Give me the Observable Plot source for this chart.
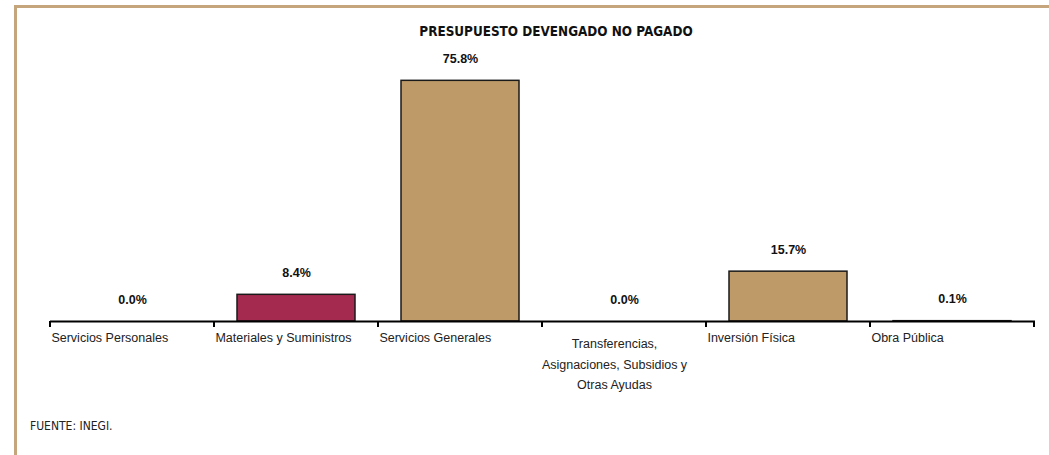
<!DOCTYPE html>
<html>
<head>
<meta charset="utf-8">
<script src="https://cdn.jsdelivr.net/npm/d3@7"></script>
<script src="https://cdn.jsdelivr.net/npm/@observablehq/plot@0.6"></script>
<style>
  html, body { margin: 0; padding: 0; background: #fff; }
  body { width: 1049px; height: 455px; position: relative; overflow: hidden;
         font-family: "Liberation Sans Narrow", "Arial Narrow", "DejaVu Sans Condensed", sans-serif; }
  #frame { position: absolute; left: 14px; top: 5px; width: 1035px; height: 460px;
           border-top: 3px solid #C4A57C; border-left: 3px solid #C4A57C; box-sizing: border-box; }
  #title { position: absolute; left: 0; width: 1112px; top: 24px; text-align: center;
           font-weight: bold; font-size: 13.4px; color: #111; }
  #chart { position: absolute; left: 0; top: 0; }
  #source { position: absolute; left: 30px; top: 419px; font-size: 12px; color: #222; }
</style>
</head>
<body>
<div id="frame"></div>
<div id="title">PRESUPUESTO DEVENGADO NO PAGADO</div>
<div id="chart"></div>
<div id="source">FUENTE: INEGI.</div>
<script>
const categories = ["Servicios Personales", "Materiales y Suministros", "Servicios Generales",
  "Transferencias, Asignaciones, Subsidios y Otras Ayudas", "Inversión Física", "Obra Pública"];
const values = [0.0, 8.4, 75.8, 0.0, 15.7, 0.1];
const valueLabels = ["0.0%", "8.4%", "75.8%", "0.0%", "15.7%", "0.1%"];
const tickLabels = ["Servicios Personales", "Materiales y Suministros", "Servicios Generales",
  "Transferencias,\nAsignaciones, Subsidios y\nOtras Ayudas", "Inversión Física", "Obra Pública"];
const barColors = ["#BE9A68", "#A52A4F", "#BE9A68", "#BE9A68", "#BE9A68", "#BE9A68"];

const data = categories.map((c, i) => ({
  cat: c, value: values[i], label: valueLabels[i], tick: tickLabels[i], color: barColors[i]
}));

const W = 1049, H = 455;
const step = (1035 - 50) / categories.length;

function boundaryTicks(index, scales, values, dimensions) {
  const g = d3.create("svg:g");
  const x = scales.x, y = scales.y;
  const bw = x.bandwidth ? x.bandwidth() : 0;
  const st = x(categories[1]) - x(categories[0]);
  const y0 = y(0);
  for (let i = 0; i <= categories.length; i++) {
    const xb = i < categories.length ? x(categories[i]) - (st - bw) / 2 : x(categories[categories.length - 1]) + bw + (st - bw) / 2;
    g.append("line").attr("x1", xb).attr("x2", xb).attr("y1", y0).attr("y2", y0 + 6)
      .attr("stroke", "#000").attr("stroke-width", 2);
  }
  return g.node();
}

const plot = Plot.plot({
  width: W,
  height: H,
  marginLeft: 50,
  marginRight: 14,
  marginTop: 67,
  marginBottom: 134,
  style: { fontFamily: "\"Liberation Sans Narrow\", \"Arial Narrow\", sans-serif", background: "transparent", overflow: "visible" },
  x: { domain: categories, paddingInner: 0.28, paddingOuter: 0.14, axis: null },
  y: { domain: [0, 80], axis: null },
  marks: [
    Plot.barY(data, { x: "cat", y: "value", fill: "color", stroke: "#1a1a1a", strokeWidth: 1.5 }),
    Plot.ruleY([0], { stroke: "#000", strokeWidth: 2 }),
    boundaryTicks,
    Plot.text(data, { x: "cat", y: "value", text: "label", dy: -22, fontWeight: "bold", fontSize: 12.5, fill: "#111" }),
    Plot.text(data.filter(d => !d.tick.includes("\n")), {
      x: "cat", y: () => 0, text: "tick", textAnchor: "start", dx: -step / 2 + 1, dy: 12,
      lineAnchor: "top", fontSize: 12.5, fill: "#222"
    }),
    Plot.text(data.filter(d => d.tick.includes("\n")), {
      x: "cat", y: () => 0, text: "tick", textAnchor: "middle", dx: -10, dy: 12,
      lineAnchor: "top", lineHeight: 1.65, fontSize: 12.5, fill: "#222"
    })
  ]
});
document.getElementById("chart").appendChild(plot);
</script>
</body>
</html>
